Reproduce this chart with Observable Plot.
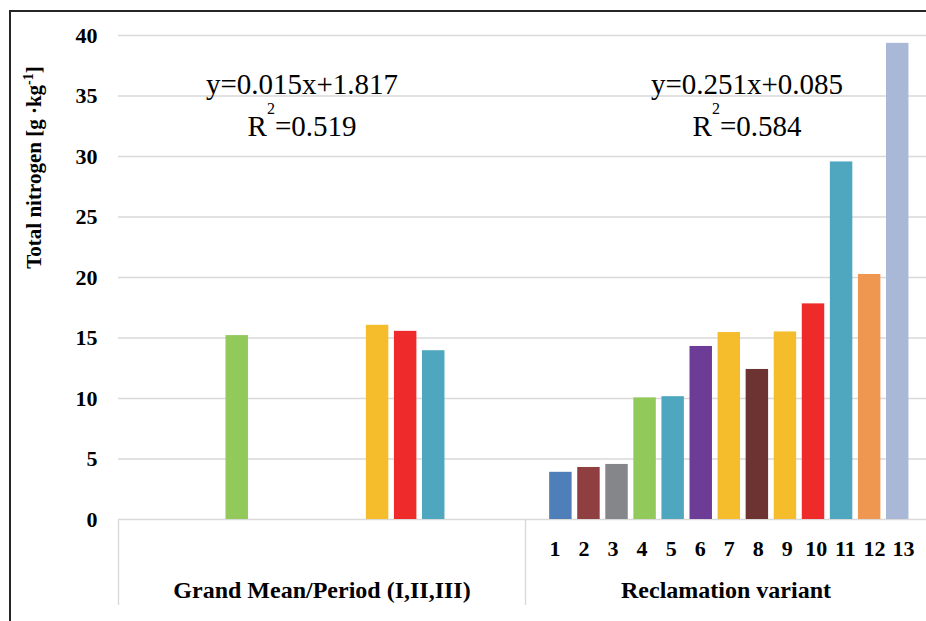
<!DOCTYPE html>
<html><head><meta charset="utf-8">
<script src="https://cdn.jsdelivr.net/npm/d3@7"></script>
<script src="https://cdn.jsdelivr.net/npm/@observablehq/plot@0.6"></script>
<style>
html,body{margin:0;padding:0;background:#fff;overflow:hidden;width:926px;height:621px;}
#chart{position:absolute;left:0;top:0;}
#frame{position:absolute;left:9px;top:10px;width:1200px;height:1000px;border:2px solid #262626;pointer-events:none;box-sizing:border-box;}
</style></head><body>
<div id="chart"></div><div id="frame"></div>
<script>
// ---- data ----
const yTicks = [0, 5, 10, 15, 20, 25, 30, 35, 40];
const periodCategories = ["Grand mean", "Period I", "Period II", "Period III"];
const periodValues = [15.2, 16.05, 15.55, 13.95];
const periodColors = ["#91c95b", "#f5bc2b", "#ee2a2a", "#4ea7bf"];
const variants = ["1", "2", "3", "4", "5", "6", "7", "8", "9", "10", "11", "12", "13"];
const variantValues = [3.9, 4.3, 4.55, 10.05, 10.15, 14.3, 15.45, 12.4, 15.5, 17.82, 29.55, 20.25, 39.35];
const variantColors = ["#4f7fb8", "#8f3f40", "#858689", "#91c95b", "#4ea7bf", "#6d3c97", "#f5bc2b",
  "#6d3232", "#f5bc2b", "#ee2a2a", "#4ea7bf", "#ef9651", "#a9b8d6"];
const groupLabels = ["Grand Mean/Period (I,II,III)", "Reclamation variant"];
const equations = ["y=0.015x+1.817", "y=0.251x+0.085"];
const rSquared = ["0.519", "0.584"];
const yTitle = "Total nitrogen [g ·kg";
const yTitleSup = "-1";

// ---- layout (slot units along the category axis) ----
const slotPx = 28.07;
const plotLeft = 118, plotRight = 926;
const periodSlots = [4, 9, 10, 11];
const periodOffset = 0.23;
const variantStart = 15.76;
const labelStart = 15.55, labelStep = 1.0345;
const groupBounds = [[0, 14.5], [14.5, (plotRight - plotLeft) / slotPx]];
const barHalf = 0.4;

const bars = [
  ...periodCategories.map((c, i) => ({key: c, pos: periodSlots[i] + periodOffset, value: periodValues[i], color: periodColors[i]})),
  ...variants.map((c, i) => ({key: c, pos: variantStart + i, value: variantValues[i], color: variantColors[i]}))
];
const variantLabels = variants.map((v, i) => ({label: v, pos: labelStart + i * labelStep}));
const groups = groupLabels.map((g, i) => ({label: g, pos: (groupBounds[i][0] + groupBounds[i][1]) / 2}));
const separators = [groupBounds[0][0], groupBounds[0][1]];
const annotations = equations.map((e, i) => ({eq: e, r2: "R2=" + rSquared[i], pos: groups[i].pos, shift: i === 0 ? -20 : 21}));

const serif = "Liberation Serif";
const belowZero = -86 / 12.1;

const chart = Plot.plot({
  width: 926,
  height: 621,
  marginLeft: plotLeft,
  marginRight: 0,
  marginTop: 35,
  marginBottom: 102,
  style: {background: "#fff", fontFamily: serif, overflow: "visible"},
  x: {type: "linear", domain: [0, (plotRight - plotLeft) / slotPx], axis: null},
  y: {domain: [0, 40], axis: null},
  marks: [
    Plot.ruleY(yTicks, {stroke: "#d9d9d9", strokeWidth: 1.4}),
    Plot.ruleX(separators, {x: d => d, y1: 0, y2: belowZero, stroke: "#d9d9d9", strokeWidth: 1.4}),
    Plot.rectY(bars, {x1: d => d.pos - barHalf, x2: d => d.pos + barHalf, y1: 0, y2: "value", fill: d => d.color}),
    Plot.text(yTicks, {y: d => d, frameAnchor: "left", dx: -21, textAnchor: "end", text: d => String(d),
      fontFamily: serif, fontWeight: "bold", fontSize: 22, fill: "#000"}),
    Plot.text(variantLabels, {x: "pos", y: 0, dy: 29, text: "label", fontFamily: serif, fontWeight: "bold", fontSize: 22, fill: "#000"}),
    Plot.text(groups, {x: "pos", y: 0, dy: 71, text: "label", fontFamily: serif, fontWeight: "bold", fontSize: 24, fill: "#000"}),
    Plot.text(annotations, {x: "pos", frameAnchor: "top", dy: 58.5, lineAnchor: "bottom", text: "eq",
      fontFamily: serif, fontSize: 29, fill: "#000"}),
    Plot.text(annotations, {x: "pos", frameAnchor: "top", dy: 100, lineAnchor: "bottom", text: "r2",
      fontFamily: serif, fontSize: 29, fill: "#000"}),
    Plot.text([yTitle], {frameAnchor: "top-left", dx: -92, dy: 132, rotate: -90, text: d => d, textAnchor: "middle",
      fontFamily: serif, fontWeight: "bold", fontSize: 21, fill: "#000"})
  ]
});
document.getElementById("chart").appendChild(chart);

// annotation horizontal offsets and superscripts
const svg = d3.select(chart);
svg.selectAll("text").each(function() {
  const t = d3.select(this);
  const s = t.text();
  const ann = annotations.find(a => a.eq === s || a.r2 === s);
  if (ann) t.attr("x", +t.attr("x") + ann.shift);
  if (/^R2=/.test(s)) {
    t.text("");
    t.append("tspan").text("R");
    t.append("tspan").attr("dy", -22).attr("font-size", 16).text("2");
    t.append("tspan").attr("dy", 22).text(s.slice(2));
  }
  if (s === yTitle) {
    t.append("tspan").attr("dy", -8).attr("font-size", 14).text(yTitleSup);
    t.append("tspan").attr("dy", 8).text("]");
  }
});
</script>
</body></html>
